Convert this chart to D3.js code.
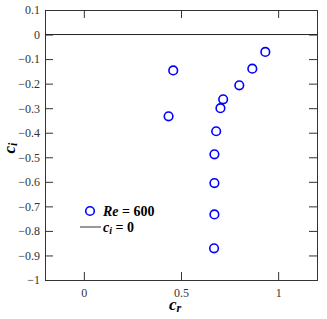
<!DOCTYPE html>
<html>
<head>
<meta charset="utf-8">
<script src="https://cdn.jsdelivr.net/npm/d3@7"></script>
<style>
  body { margin: 0; background: #fff; }
</style>
</head>
<body>
<script>
// eigenvalues
let cr = [0.934, 0.867, 0.800, 0.717, 0.703, 0.460, 0.436, 0.681, 0.672, 0.672, 0.672, 0.670];
let ci = [-0.071, -0.139, -0.207, -0.264, -0.300, -0.146, -0.333, -0.394, -0.488, -0.605, -0.733, -0.871];

let xTicks = [0, 0.5, 1];
let yTicks = [0.1, 0, -0.1, -0.2, -0.3, -0.4, -0.5, -0.6, -0.7, -0.8, -0.9, -1];

let serif = "'Liberation Serif', 'Times New Roman', 'DejaVu Serif', serif";

let margin = {top: 10, right: 10, bottom: 39, left: 45},
    width = 327 - margin.left - margin.right,
    height = 319 - margin.top - margin.bottom;

let svg = d3.select('body').append('svg')
    .attr('width', 327)
    .attr('height', 319)
    .style('font-family', serif);

let g = svg.append('g')
    .attr('transform', `translate(${margin.left},${margin.top})`);

let x = d3.scaleLinear().domain([-0.2, 1.2]).range([0, width]);
let y = d3.scaleLinear().domain([-1, 0.1]).range([height, 0]);

let axisColor = '#333';

// box + inward ticks
let xAxis = g.append('g')
    .attr('transform', `translate(0,${height})`)
    .call(d3.axisBottom(x).tickValues(xTicks).tickSize(-8).tickPadding(8).tickFormat(d3.format('')));
let xTop = g.append('g')
    .call(d3.axisTop(x).tickValues(xTicks).tickSize(-8).tickFormat(''));
let yAxis = g.append('g')
    .call(d3.axisLeft(y).tickValues(yTicks).tickSize(-8).tickPadding(5).tickFormat(d => d3.format('')(+d.toFixed(1))));
let yRight = g.append('g')
    .attr('transform', `translate(${width},0)`)
    .call(d3.axisRight(y).tickValues(yTicks).tickSize(-8).tickFormat(''));

[xAxis, xTop, yAxis, yRight].forEach(a => {
    a.attr('font-family', null);
    a.select('.domain').attr('stroke', axisColor).attr('stroke-width', 1);
    a.selectAll('.tick line').attr('stroke', axisColor);
    a.selectAll('.tick text')
        .attr('fill', '#333')
        .style('font-family', serif)
        .style('font-size', '12px');
});

// c_i = 0 line
g.append('line')
    .attr('x1', 0)
    .attr('x2', width)
    .attr('y1', y(0))
    .attr('y2', y(0))
    .attr('stroke', '#222')
    .attr('stroke-width', 1);

// points
g.selectAll('circle.pt')
    .data(cr.map((d, i) => [d, ci[i]]))
    .enter().append('circle')
    .attr('class', 'pt')
    .attr('cx', d => x(d[0]))
    .attr('cy', d => y(d[1]))
    .attr('r', 4.3)
    .attr('fill', 'none')
    .attr('stroke', '#0000ff')
    .attr('stroke-width', 1.6);

// axis labels
svg.append('text')
    .attr('x', 175)
    .attr('y', 310)
    .attr('text-anchor', 'middle')
    .style('font-size', '17px')
    .style('font-weight', 'bold')
    .style('font-style', 'italic')
    .html('c<tspan style="font-size:12px" dy="2">r</tspan>');

svg.append('text')
    .attr('transform', 'translate(15,148) rotate(-90)')
    .attr('text-anchor', 'middle')
    .style('font-size', '17px')
    .style('font-weight', 'bold')
    .style('font-style', 'italic')
    .html('c<tspan style="font-size:12px" dy="2">i</tspan>');

// legend
let leg = g.append('g').attr('transform', `translate(${90 - margin.left},${211 - margin.top})`);
leg.append('circle')
    .attr('cx', 0).attr('cy', 0).attr('r', 4.3)
    .attr('fill', 'none').attr('stroke', '#0000ff').attr('stroke-width', 1.6);
leg.append('text')
    .attr('x', 13).attr('y', 5)
    .style('font-size', '14px')
    .style('font-weight', 'bold')
    .html('<tspan style="font-style:italic">Re</tspan> = 600');
leg.append('line')
    .attr('x1', -10).attr('x2', 11).attr('y1', 16).attr('y2', 16)
    .attr('stroke', '#333').attr('stroke-width', 1);
leg.append('text')
    .attr('x', 13).attr('y', 21)
    .style('font-size', '14px')
    .style('font-weight', 'bold')
    .html('<tspan style="font-style:italic">c</tspan><tspan style="font-style:italic;font-size:10px" dy="2">i</tspan><tspan dy="-2"> = 0</tspan>');
</script>
</body>
</html>
